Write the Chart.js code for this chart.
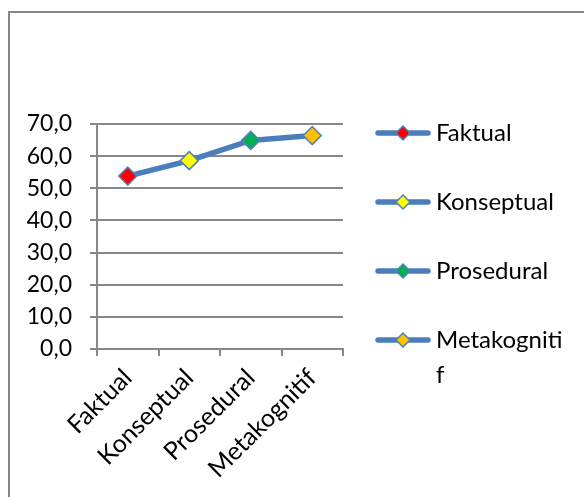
<!DOCTYPE html>
<html>
<head>
<meta charset="utf-8">
<script src="https://cdn.jsdelivr.net/npm/chart.js@4/dist/chart.umd.min.js"></script>
<style>
  html, body { margin: 0; padding: 0; background: #fff; overflow: hidden; }
  #frame {
    position: absolute; left: 8px; top: 11px; width: 620px; height: 520px;
    border-left: 2px solid #878787; border-top: 2px solid #878787;
  }
  #wrap { position: absolute; left: 0; top: 0; width: 584px; height: 497px; }
</style>
</head>
<body>
<div id="frame"></div>
<div id="wrap"><canvas id="chart" width="584" height="497"></canvas></div>
<script>
// Categories and their scores
const categories = ['Faktual', 'Konseptual', 'Prosedural', 'Metakognitif'];
const scores = [53.8, 58.6, 64.9, 66.4];
const markerColors = ['#FF0000', '#FFFF00', '#00B050', '#FFC000'];
const yTickValues = [0, 10, 20, 30, 40, 50, 60, 70];

const FONT_FAMILY = 'Lato, "Open Sans", sans-serif';
const LEGEND_FONT = 24;
const X_FONT = 25;
const Y_FONT = 23;
const LINE_COLOR = '#4A7EBB';
const MARKER_EDGE = '#4F81BD';
const GRID_COLOR = '#888888';

const LEGEND_PAD = 45;
const LEGEND_BOX = 36;
const LEGEND_TEXT_MAX = 128;

// Break a legend label by characters when it is wider than the legend column
function wrapLabel(ctx, text) {
  const lines = [];
  let cur = '';
  for (const ch of text) {
    if (cur && ctx.measureText(cur + ch).width > LEGEND_TEXT_MAX) {
      lines.push(cur);
      cur = ch;
    } else {
      cur += ch;
    }
  }
  lines.push(cur);
  return lines.length === 1 ? lines[0] : lines;
}

// Legend key: a short line with the coloured diamond marker on it
function legendKey(fill) {
  const c = document.createElement('canvas');
  c.width = 80; c.height = 22;
  const g = c.getContext('2d');
  g.strokeStyle = LINE_COLOR;
  g.lineWidth = 5.5;
  g.lineCap = 'round';
  g.beginPath(); g.moveTo(12, 11); g.lineTo(62, 11); g.stroke();
  g.beginPath();
  g.moveTo(37, 4); g.lineTo(44, 11); g.lineTo(37, 18); g.lineTo(30, 11);
  g.closePath();
  g.fillStyle = fill; g.fill();
  g.lineWidth = 1.5; g.strokeStyle = MARKER_EDGE; g.stroke();
  return c;
}

const measureCtx = document.createElement('canvas').getContext('2d');
measureCtx.font = LEGEND_FONT + 'px ' + FONT_FAMILY;
const legendTexts = categories.map(t => wrapLabel(measureCtx, t));
const widestLine = Math.max(...legendTexts.flat().map(t => measureCtx.measureText(t).width));
const legendWidth = LEGEND_PAD + LEGEND_BOX + LEGEND_FONT / 2 + widestLine + 10;
const PLOT_RIGHT = 343;
const rightPad = Math.max(0, 584 - PLOT_RIGHT - legendWidth);

const keys = markerColors.map(legendKey);

new Chart(document.getElementById('chart'), {
  type: 'line',
  data: {
    labels: categories,
    datasets: [{
      data: scores,
      borderColor: LINE_COLOR,
      borderWidth: 5.5,
      tension: 0,
      pointStyle: 'rectRot',
      pointRadius: 9,
      pointBorderWidth: 1.5,
      pointBorderColor: MARKER_EDGE,
      pointBackgroundColor: markerColors,
      fill: false
    }]
  },
  options: {
    responsive: false,
    animation: false,
    events: [],
    layout: { padding: { top: 76, right: rightPad, bottom: 0, left: 0 } },
    plugins: {
      // blank band above the plot area
      title: {
        display: true, text: '', fullSize: false,
        font: { size: 1, lineHeight: 1 },
        padding: { top: 47, bottom: 0 }
      },
      legend: {
        position: 'right',
        align: 'start',
        maxWidth: 300,
        labels: {
          usePointStyle: true,
          pointStyleWidth: LEGEND_BOX,
          padding: LEGEND_PAD,
          color: '#000',
          font: { family: FONT_FAMILY, size: LEGEND_FONT, lineHeight: 1.45 },
          generateLabels: () => categories.map((c, i) => ({
            text: legendTexts[i],
            pointStyle: keys[i],
            fillStyle: markerColors[i],
            strokeStyle: LINE_COLOR,
            lineWidth: 0,
            fontColor: '#000',
            hidden: false,
            datasetIndex: 0
          }))
        }
      },
      tooltip: { enabled: false }
    },
    scales: {
      x: {
        offset: true,
        grid: { offset: true, drawOnChartArea: false, drawTicks: true, tickLength: 7, color: GRID_COLOR, lineWidth: 2 },
        border: { color: GRID_COLOR, width: 2 },
        ticks: {
          color: '#000',
          font: { family: FONT_FAMILY, size: X_FONT },
          minRotation: 45, maxRotation: 45, autoSkip: false, padding: 7
        },
        afterFit: s => { s.height = 148; }
      },
      y: {
        min: 0, max: 70,
        afterBuildTicks: s => { s.ticks = yTickValues.map(v => ({ value: v })); },
        grid: { color: GRID_COLOR, lineWidth: 2, tickLength: 7 },
        border: { color: GRID_COLOR, width: 2 },
        ticks: {
          color: '#000',
          padding: 18,
          font: { family: FONT_FAMILY, size: Y_FONT },
          callback: v => v.toFixed(1).replace('.', ',')
        },
        afterFit: s => { s.width = 97; }
      }
    }
  }
});
</script>
</body>
</html>
